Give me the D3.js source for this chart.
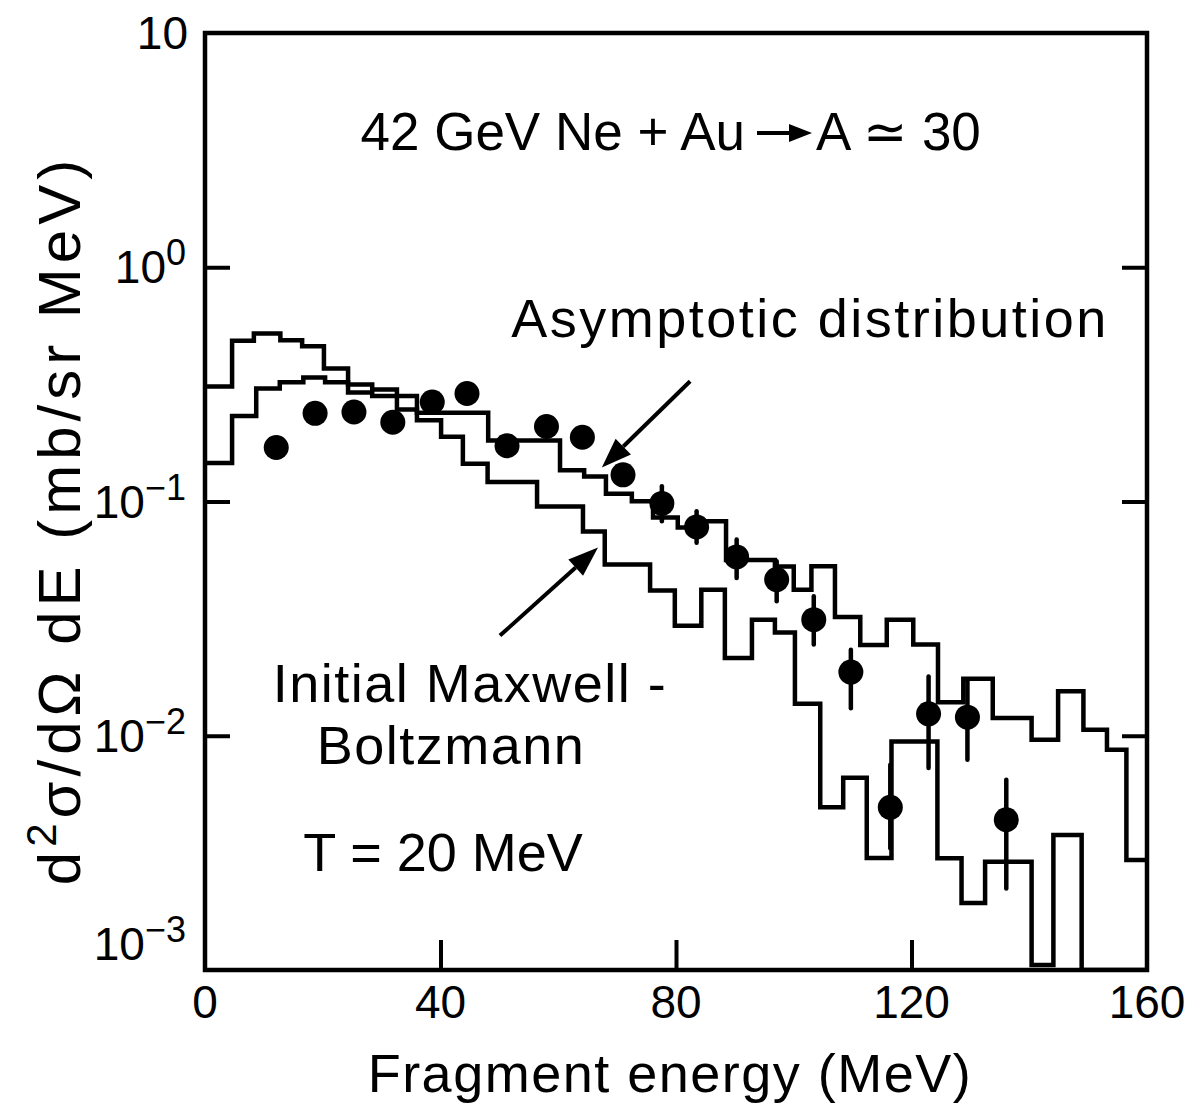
<!DOCTYPE html>
<html>
<head>
<meta charset="utf-8">
<script src="https://cdn.jsdelivr.net/npm/d3@7"></script>
<style>
  body { margin: 0; background: #fff; }
  text { font-family: "Liberation Sans", Arial, sans-serif; fill: #000; }
</style>
</head>
<body>
<svg id="chart" width="1200" height="1108"></svg>
<script>
// Calculated spectra: bin edges (MeV) and bin contents (mb/sr MeV)
const initialEdges = [0, 4.6, 8.3, 12.8, 16.5, 20.2, 24.3, 28.4, 32.6, 36.0, 40.1, 43.8, 48.0, 52.1,
  56.4, 60.3, 64.2, 67.9, 71.9, 75.6, 79.8, 84.3, 88.3, 92.9, 96.8, 100.2, 104.5, 108.4, 112.4,
  116.6, 120.5, 124.4, 128.5, 132.5, 136.5, 140.4, 144.1, 148.9, 152.9, 156.5, 160];
const initialValues = [0.310, 0.485, 0.522, 0.488, 0.460, 0.370, 0.292, 0.282, 0.282, 0.222,
  0.189, 0.145, 0.121, 0.121, 0.0952, 0.0952, 0.0744, 0.0538, 0.0538, 0.0417,
  0.0295, 0.0420, 0.0215, 0.0313, 0.0276, 0.0137, 0.00495, 0.00661, 0.00301, 0.00945,
  0.00945, 0.00300, 0.00193, 0.00290, 0.00290, 0.00105, 0.00377, 0, 0, 0];

const asymptoticEdges = [0, 4.6, 8.7, 12.7, 16.7, 20.4, 24.3, 28.4, 32.6, 36.0, 39.9, 44.0, 48.1,
  52.1, 56.2, 60.3, 64.4, 68.1, 72.5, 76.1, 80.3, 84.1, 88.5, 92.6, 96.8, 100.0, 103.0, 107.0,
  111.3, 115.8, 120.3, 124.5, 128.8, 133.8, 137.1, 140.4, 144.9, 149.2, 153.2, 156.5, 160];
const asymptoticValues = [0.146, 0.232, 0.304, 0.323, 0.338, 0.323, 0.316, 0.301, 0.247, 0.239,
  0.239, 0.239, 0.182, 0.182, 0.182, 0.136, 0.128, 0.108, 0.1003, 0.0854,
  0.0774, 0.0824, 0.0562, 0.0562, 0.0528, 0.0420, 0.0529, 0.0321, 0.0244, 0.0313,
  0.0245, 0.0139, 0.0175, 0.0119, 0.0119, 0.00961, 0.0155, 0.0106, 0.00872, 0.00295];

// Measured A ~ 30 fragments
const pointEnergy = [12.1, 18.7, 25.3, 31.9, 38.6, 44.5, 51.3, 58.0, 64.1, 71.0,
  77.6, 83.5, 90.3, 97.1, 103.4, 109.7, 116.4, 122.9, 129.5, 136.1];
const pointValue = [0.170, 0.238, 0.241, 0.218, 0.266, 0.289, 0.173, 0.209, 0.188, 0.130,
  0.0981, 0.0779, 0.0580, 0.0464, 0.0313, 0.0187, 0.00495, 0.0124, 0.0120, 0.00438];
const pointErrLow = [0.170, 0.238, 0.241, 0.218, 0.266, 0.289, 0.173, 0.209, 0.188, 0.130,
  0.0824, 0.0666, 0.0472, 0.0375, 0.0245, 0.0131, 0.00331, 0.00728, 0.00790, 0.00223];
const pointErrHigh = [0.170, 0.238, 0.241, 0.218, 0.266, 0.289, 0.173, 0.209, 0.188, 0.130,
  0.1162, 0.0909, 0.0688, 0.0556, 0.0394, 0.0233, 0.00752, 0.0179, 0.0174, 0.00649];

// Axis ticks
const xTickValues = [0, 40, 80, 120, 160];
const xTickLabels = ["0", "40", "80", "120", "160"];
const yTickValues = [10, 1, 0.1, 0.01, 0.001];
const yTickExponents = ["", "0", "\u22121", "\u22122", "\u22123"];

const svg = d3.select("#chart");
const W = 1200, H = 1108;
const plot = { left: 205, right: 1147, top: 33, bottom: 970 };

const x = d3.scaleLinear().domain([0, 160]).range([plot.left, plot.right]);
const y = d3.scaleLog().domain([1e-3, 10]).range([plot.bottom, plot.top]);

svg.append("rect").attr("width", W).attr("height", H).attr("fill", "#fff");

svg.append("defs").append("clipPath").attr("id", "plotclip")
  .append("rect")
  .attr("x", plot.left).attr("y", plot.top)
  .attr("width", plot.right - plot.left).attr("height", plot.bottom - plot.top);

// Inward ticks
const tickStyle = g => {
  g.select(".domain").remove();
  g.selectAll("line").attr("stroke", "#000").attr("stroke-width", 4);
  g.selectAll("text").remove();
};
svg.append("g").attr("transform", `translate(0,${plot.bottom})`)
  .call(d3.axisBottom(x).tickValues(xTickValues.slice(1, -1)).tickSize(-30).tickFormat(""))
  .call(tickStyle);
svg.append("g").attr("transform", `translate(${plot.left},0)`)
  .call(d3.axisLeft(y).tickValues(yTickValues.slice(1, -1)).tickSize(-25).tickFormat(""))
  .call(tickStyle);
svg.append("g").attr("transform", `translate(${plot.right},0)`)
  .call(d3.axisRight(y).tickValues(yTickValues.slice(1, -1)).tickSize(-25).tickFormat(""))
  .call(tickStyle);

// Histograms as step outlines
function stepPoints(edges, values) {
  const pts = [];
  values.forEach((v, i) => {
    const vv = v > 0 ? v : 1e-3;
    pts.push([edges[i], vv], [edges[i + 1], vv]);
  });
  return pts;
}
const stepLine = d3.line().x(d => x(d[0])).y(d => y(d[1]));

const curves = svg.append("g").attr("clip-path", "url(#plotclip)");
[[initialEdges, initialValues], [asymptoticEdges, asymptoticValues]].forEach(([e, v]) => {
  curves.append("path")
    .attr("d", stepLine(stepPoints(e, v)))
    .attr("fill", "none")
    .attr("stroke", "#000")
    .attr("stroke-width", 4.5)
    .attr("stroke-linejoin", "miter");
});

// Frame
svg.append("rect")
  .attr("x", plot.left).attr("y", plot.top)
  .attr("width", plot.right - plot.left).attr("height", plot.bottom - plot.top)
  .attr("fill", "none").attr("stroke", "#000").attr("stroke-width", 4.5);

// Data points with error bars
const pts = d3.range(pointEnergy.length).map(i => ({
  e: pointEnergy[i], v: pointValue[i], lo: pointErrLow[i], hi: pointErrHigh[i]
}));
const pg = svg.append("g");
pg.selectAll("line.err").data(pts.filter(d => d.hi > d.lo)).join("line")
  .attr("class", "err")
  .attr("x1", d => x(d.e)).attr("x2", d => x(d.e))
  .attr("y1", d => y(d.hi)).attr("y2", d => y(d.lo))
  .attr("stroke", "#000").attr("stroke-width", 4.5).attr("stroke-linecap", "round");
pg.selectAll("circle").data(pts).join("circle")
  .attr("cx", d => x(d.e)).attr("cy", d => y(d.v)).attr("r", 12.5)
  .attr("fill", "#000");

// Tick labels
svg.append("g").selectAll("text").data(xTickValues).join("text")
  .attr("x", d => x(d)).attr("y", 1018)
  .attr("text-anchor", "middle")
  .attr("font-size", 46)
  .text((d, i) => xTickLabels[i]);

const yl = svg.append("g");
yTickValues.forEach((v, i) => {
  const exp = yTickExponents[i];
  let ty = y(v) + 16;
  if (i === yTickValues.length - 1) ty -= 26;
  const t = yl.append("text")
    .attr("x", exp ? 186 : 188).attr("y", ty)
    .attr("text-anchor", "end")
    .attr("font-size", 46);
  t.append("tspan").text("10");
  if (exp) t.append("tspan").attr("dy", -18).attr("font-size", 36).text(exp);
});

// Axis titles
svg.append("text")
  .attr("x", 670).attr("y", 1092)
  .attr("text-anchor", "middle").attr("font-size", 54)
  .attr("letter-spacing", 1.5)
  .text("Fragment energy (MeV)");

const yt = svg.append("text")
  .attr("transform", "translate(80,520) rotate(-90)")
  .attr("text-anchor", "middle").attr("font-size", 60)
  .attr("letter-spacing", 5);
yt.append("tspan").text("d");
yt.append("tspan").attr("dy", -24).attr("font-size", 42).text("2");
yt.append("tspan").attr("dy", 24).text("\u03C3/d\u03A9 dE (mb/sr MeV)");

// Reaction label, with a drawn arrow between the two sides
svg.append("text").attr("x", 745).attr("y", 150)
  .attr("text-anchor", "end").attr("font-size", 53)
  .text("42 GeV Ne + Au");
svg.append("text").attr("x", 816).attr("y", 150)
  .attr("text-anchor", "start").attr("font-size", 53)
  .text("A \u2243 30");
svg.append("line")
  .attr("x1", 757).attr("y1", 133).attr("x2", 792).attr("y2", 133)
  .attr("stroke", "#000").attr("stroke-width", 4);
svg.append("polygon")
  .attr("points", "789,124 812,133 789,142")
  .attr("fill", "#000");

svg.append("text").attr("x", 810).attr("y", 337)
  .attr("text-anchor", "middle").attr("font-size", 54).attr("letter-spacing", 2.5)
  .text("Asymptotic distribution");

svg.append("text").attr("x", 470).attr("y", 702)
  .attr("text-anchor", "middle").attr("font-size", 54).attr("letter-spacing", 1.5)
  .text("Initial Maxwell -");
svg.append("text").attr("x", 451).attr("y", 764)
  .attr("text-anchor", "middle").attr("font-size", 54).attr("letter-spacing", 1.5)
  .text("Boltzmann");
svg.append("text").attr("x", 443).attr("y", 871)
  .attr("text-anchor", "middle").attr("font-size", 54)
  .text("T = 20 MeV");

// Arrows pointing at the two spectra
function arrow(from, to) {
  const x1 = x(from[0]), y1 = y(from[1]), x2 = x(to[0]), y2 = y(to[1]);
  const a = Math.atan2(y2 - y1, x2 - x1);
  const len = 30, half = 11;
  const bx = x2 - len * Math.cos(a), by = y2 - len * Math.sin(a);
  svg.append("line")
    .attr("x1", x1).attr("y1", y1).attr("x2", bx).attr("y2", by)
    .attr("stroke", "#000").attr("stroke-width", 4);
  svg.append("polygon")
    .attr("points", [
      [x2, y2],
      [bx + half * Math.sin(a), by - half * Math.cos(a)],
      [bx - half * Math.sin(a), by + half * Math.cos(a)]
    ].map(p => p.join(",")).join(" "))
    .attr("fill", "#000");
}
arrow([82.4, 0.326], [67.4, 0.1397]);
arrow([50.1, 0.02676], [66.75, 0.0636]);
</script>
</body>
</html>
